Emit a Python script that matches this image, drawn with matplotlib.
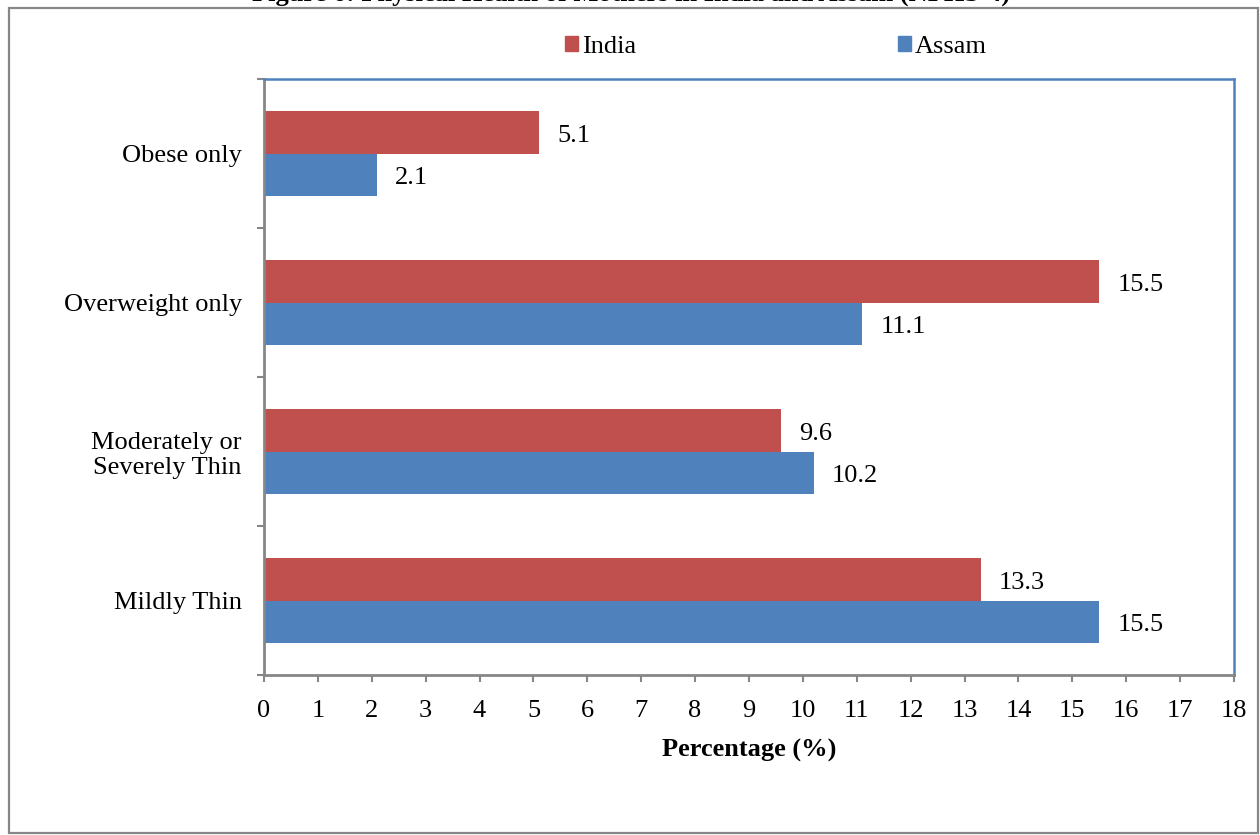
import numpy as np
import matplotlib.pyplot as plt
from matplotlib.patches import Patch, Rectangle

# Datos (NFHS-4), de abajo hacia arriba
categorias = ['Mildly Thin', 'Moderately or\nSeverely Thin', 'Overweight only', 'Obese only']
india = [13.3, 9.6, 15.5, 5.1]
assam = [15.5, 10.2, 11.1, 2.1]

color_india = '#C0504D'
color_assam = '#4F81BD'
gris = '#868686'

plt.rcParams['font.family'] = ['Liberation Serif', 'DejaVu Serif']

fig = plt.figure(figsize=(12.6, 8.35), dpi=100)
ax = fig.add_axes([264 / 1260, 1 - 675 / 835, (1234 - 264) / 1260, (675 - 79) / 835])

y = np.arange(len(categorias))
h = 0.282

barras_india = ax.barh(y + h / 2, india, height=h, color=color_india, label='India')
barras_assam = ax.barh(y - h / 2, assam, height=h, color=color_assam, label='Assam')

# Etiquetas de valor a la derecha de cada barra
for barras, valores in [(barras_india, india), (barras_assam, assam)]:
    for b, v in zip(barras, valores):
        ax.annotate(f'{v:.1f}', xy=(v, b.get_y() + b.get_height() / 2),
                    xytext=(13, -2.5), textcoords='offset points',
                    ha='left', va='center', fontsize=19)

ax.set_xlim(0, 18)
ax.set_ylim(-0.5, len(categorias) - 0.5)
ax.set_xticks(range(0, 19))
ax.set_yticks(y)
ax.set_yticklabels(categorias, linespacing=1.2)
ax.set_yticks(np.arange(-0.5, len(categorias), 1), minor=True)

ax.tick_params(axis='x', length=5, width=1.5, color=gris, labelsize=19, pad=13)
ax.tick_params(axis='y', which='major', length=0, labelsize=19, pad=16)
ax.tick_params(axis='y', which='minor', length=5, width=1.5, color=gris)

for lado in ['left', 'bottom']:
    ax.spines[lado].set_color(gris)
    ax.spines[lado].set_linewidth(2)
for lado in ['top', 'right']:
    ax.spines[lado].set_color(color_assam)
    ax.spines[lado].set_linewidth(1.8)

ax.set_xlabel('Percentage (%)', fontsize=19, fontweight='bold', labelpad=12)

# Leyenda arriba, en dos columnas
manejadores = [Patch(color=color_india, label='India'), Patch(color=color_assam, label='Assam')]
fig.legend(handles=manejadores, loc='center', bbox_to_anchor=(776 / 1260, 1 - 47 / 835),
           ncol=2, frameon=False, fontsize=19, handlelength=0.5, handleheight=0.5,
           handletextpad=0.15, columnspacing=9.9)

# Marco exterior del gráfico
fig.patches.append(Rectangle((9 / 1260, 1 - 833 / 835), (1258 - 9) / 1260, (833 - 8) / 835,
                             transform=fig.transFigure, fill=False, edgecolor='#878787',
                             linewidth=1.6))

# Título del documento, cortado por el borde superior
fig.text(631 / 1260, 1 - 1 / 835, 'Figure 6: Physical Health of Mothers in India and Assam (NFHS-4)',
         ha='center', va='baseline', fontsize=19, fontweight='bold')

fig.savefig('out.png', dpi=100)
plt.close(fig)
